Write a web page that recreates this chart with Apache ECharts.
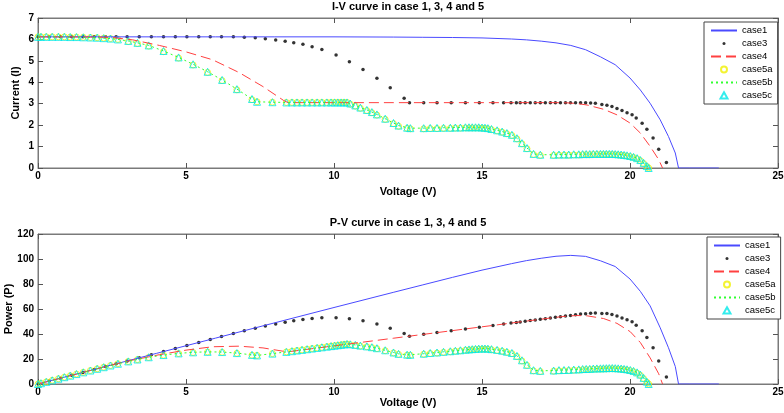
<!DOCTYPE html>
<html><head><meta charset="utf-8">
<script src="https://cdn.jsdelivr.net/npm/echarts@6/dist/echarts.min.js"></script>
<style>html,body{margin:0;padding:0;background:#fff}#c{width:784px;height:413px}</style>
</head><body><div id="c"></div>
<script>
// ---------- texts and ticks ----------
const caseNames = ['case1', 'case3', 'case4', 'case5a', 'case5b', 'case5c'];
const titles = ['I-V curve in case 1, 3, 4 and 5', 'P-V curve in case 1, 3, 4 and 5'];
const xName = 'Voltage (V)';
const yNames = ['Current (I)', 'Power (P)'];
const xTickValues = [0, 5, 10, 15, 20, 25];
const iTickValues = [0, 1, 2, 3, 4, 5, 6, 7];
const pTickValues = [0, 20, 40, 60, 80, 100, 120];

// ---------- case1 ----------
const case1V = [0, 2, 4, 6, 8, 10, 12, 13, 14, 15, 16, 16.5, 17, 17.5, 18, 18.5, 19, 19.5, 20, 20.35, 20.68, 21.02, 21.3, 21.53, 21.64, 22, 22.5, 23];
const case1I = [6.12, 6.12, 6.12, 6.12, 6.12, 6.12, 6.11, 6.10, 6.09, 6.07, 6.02, 5.98, 5.92, 5.84, 5.72, 5.52, 5.19, 4.82, 4.2, 3.64, 3.02, 2.25, 1.47, 0.70, 0, 0, 0, 0];
const case1P = [0, 12.24, 24.48, 36.72, 48.96, 61.2, 73.3, 79.3, 85.3, 91.1, 96.3, 98.7, 100.6, 102.2, 102.9, 102.1, 98.6, 94.0, 84.0, 74.1, 62.5, 45, 29, 14, 0, 0, 0, 0];

// ---------- case3 ----------
const case3V = [0, 0.38, 0.76, 1.14, 1.52, 1.9, 2.28, 2.64, 3.01, 3.42, 3.83, 4.24, 4.64, 5.03, 5.43, 5.82, 6.2, 6.6, 6.97, 7.34,
  7.68, 8.03, 8.35, 8.64, 8.95, 9.26, 9.59, 10.07, 10.52, 10.98, 11.45, 11.9, 12.37, 12.55,
  13.03, 13.48, 13.96, 14.44, 14.91, 15.37, 15.73, 15.98, 16.16, 16.29, 16.46, 16.63, 16.8, 16.97, 17.14, 17.31, 17.48, 17.65, 17.82, 17.99, 18.16, 18.33,
  18.5, 18.67, 18.83, 19.05, 19.22, 19.39, 19.56, 19.73, 19.9, 20.07, 20.21, 20.41, 20.57, 20.78, 20.97, 21.23];
const case3I = [6.12, 6.12, 6.12, 6.12, 6.12, 6.12, 6.12, 6.12, 6.12, 6.12, 6.12, 6.12, 6.12, 6.12, 6.12, 6.12, 6.12, 6.12, 6.1, 6.08,
  6.03, 5.97, 5.92, 5.85, 5.77, 5.66, 5.53, 5.27, 4.96, 4.6, 4.19, 3.74, 3.26, 3.05,
  3.05, 3.05, 3.05, 3.05, 3.05, 3.05, 3.05, 3.05, 3.05, 3.05, 3.05, 3.05, 3.05, 3.05, 3.05, 3.05, 3.05, 3.05, 3.05, 3.05, 3.05, 3.05,
  3.04, 3.03, 3.02, 2.96, 2.93, 2.87, 2.78, 2.68, 2.58, 2.48, 2.33, 2.09, 1.81, 1.40, 0.88, 0.26];
const case3P = [0, 2.33, 4.65, 6.98, 9.3, 11.63, 13.95, 16.16, 18.42, 20.93, 23.44, 25.95, 28.4, 30.78, 33.23, 35.62, 37.94, 40.39, 42.52, 44.63,
  46.31, 47.94, 49.43, 50.54, 51.64, 52.41, 53.03, 53.07, 52.18, 50.51, 47.98, 44.51, 40.33, 38.28,
  39.74, 41.11, 42.58, 44.04, 45.48, 46.88, 47.98, 48.74, 49.29, 49.68, 50.2, 50.72, 51.24, 51.76, 52.28, 52.8, 53.31, 53.83, 54.35, 54.87, 55.39, 55.91,
  56.24, 56.57, 56.87, 56.39, 56.31, 55.65, 54.38, 52.88, 51.34, 49.77, 47.09, 42.66, 37.23, 29.09, 18.45, 5.52];

// ---------- case4 ----------
const case4V = [0, 1, 2, 2.5, 3.2, 4.1, 5.0, 5.9, 6.8, 7.6, 8.3, 8.45, 10, 12, 14, 16, 17.4, 17.87, 18.2, 18.55, 19.11, 19.56, 20.01, 20.35, 20.68, 20.97, 21.1];
const case4I = [6.12, 6.12, 6.11, 6.09, 5.98, 5.72, 5.42, 5.05, 4.45, 3.8, 3.15, 3.05, 3.05, 3.05, 3.05, 3.05, 3.05, 3.04, 3.01, 2.94, 2.74, 2.48, 2.09, 1.63, 1.01, 0.39, 0];
const case4P = [0, 6.12, 12.22, 15.23, 19.14, 23.45, 27.1, 29.8, 30.26, 28.88, 26.15, 25.77, 30.5, 36.6, 42.7, 48.8, 53.07, 54.32, 54.78, 54.54, 52.36, 48.51, 41.82, 33.17, 20.89, 8.18, 0];

// ---------- case5 (a, b, c share the same voltages) ----------
const case5V = [0, 0.1, 0.28, 0.48, 0.69, 0.89, 1.09, 1.3, 1.53, 1.77,
  2.0, 2.22, 2.45, 2.7, 3.05, 3.36, 3.74, 4.24, 4.75, 5.24,
  5.73, 6.22, 6.72, 7.23, 7.4, 7.92, 8.39, 8.58, 8.75, 8.92,
  9.09, 9.26, 9.43, 9.59, 9.76, 9.9, 10.02, 10.13, 10.24, 10.34,
  10.44, 10.55, 10.72, 10.89, 11.11, 11.28, 11.45, 11.73, 12.01, 12.18,
  12.47, 12.58, 13.03, 13.25, 13.48, 13.7, 13.93, 14.1, 14.27, 14.44,
  14.56, 14.67, 14.78, 14.89, 15.0, 15.1, 15.2, 15.32, 15.51, 15.68,
  15.84, 16.01, 16.18, 16.35, 16.52, 16.74, 16.97, 17.42, 17.6, 17.77,
  17.93, 18.1, 18.27, 18.4, 18.52, 18.64, 18.76, 18.88, 19.0, 19.1,
  19.2, 19.3, 19.4, 19.5, 19.6, 19.7, 19.8, 19.9, 20.01, 20.12,
  20.24, 20.35, 20.46, 20.57, 20.63];
const case5cI = [6.12, 6.12, 6.12, 6.12, 6.12, 6.12, 6.11, 6.11, 6.10, 6.09,
  6.08, 6.06, 6.04, 6.00, 5.93, 5.84, 5.72, 5.46, 5.16, 4.84,
  4.49, 4.11, 3.68, 3.22, 3.09, 3.07, 3.06, 3.06, 3.06, 3.06,
  3.06, 3.06, 3.06, 3.06, 3.06, 3.06, 3.06, 3.06, 3.06, 3.06,
  3.06, 3.01, 2.92, 2.82, 2.71, 2.61, 2.50, 2.30, 2.10, 1.98,
  1.88, 1.86, 1.86, 1.87, 1.87, 1.88, 1.88, 1.89, 1.89, 1.90,
  1.90, 1.90, 1.90, 1.90, 1.89, 1.88, 1.86, 1.82, 1.76, 1.70,
  1.63, 1.55, 1.39, 1.16, 0.93, 0.66, 0.62, 0.62, 0.63, 0.63,
  0.63, 0.64, 0.64, 0.65, 0.65, 0.65, 0.66, 0.66, 0.66, 0.66,
  0.66, 0.66, 0.66, 0.65, 0.64, 0.63, 0.61, 0.59, 0.56, 0.52,
  0.46, 0.37, 0.24, 0.09, 0];
const case5cP = [0, 0.61, 1.71, 2.94, 4.22, 5.45, 6.66, 7.94, 9.33, 10.78,
  12.16, 13.45, 14.8, 16.2, 18.09, 19.62, 21.39, 23.15, 24.51, 25.36,
  25.73, 25.56, 24.73, 23.28, 22.87, 24.31, 25.67, 26.25, 26.78, 27.3,
  27.82, 28.34, 28.86, 29.35, 29.87, 30.29, 30.66, 31.0, 31.33, 31.64,
  31.95, 31.76, 31.3, 30.71, 30.11, 29.44, 28.63, 26.98, 25.22, 24.12,
  23.44, 23.4, 24.24, 24.78, 25.21, 25.76, 26.19, 26.65, 26.97, 27.44,
  27.66, 27.87, 28.08, 28.29, 28.35, 28.39, 28.27, 27.88, 27.3, 26.66,
  25.82, 24.82, 22.49, 18.97, 15.36, 11.05, 10.52, 10.8, 11.09, 11.2,
  11.3, 11.58, 11.69, 11.96, 12.04, 12.12, 12.38, 12.46, 12.54, 12.61,
  12.67, 12.74, 12.8, 12.68, 12.54, 12.41, 12.08, 11.74, 11.21, 10.46,
  9.31, 7.53, 4.91, 1.85, 0];
// case5b (dotted line) runs through the same points as the case5c markers
const case5bI = case5cI;
const case5bP = case5cP;
const case5aI = [6.12, 6.12, 6.12, 6.12, 6.12, 6.12, 6.11, 6.11, 6.10, 6.09,
  6.08, 6.06, 6.04, 6.00, 5.90, 5.81, 5.69, 5.43, 5.13, 4.81,
  4.46, 4.08, 3.65, 3.19, 3.09, 3.07, 3.06, 3.06, 3.06, 3.06,
  3.06, 3.06, 3.06, 3.06, 3.06, 3.06, 3.06, 3.06, 3.06, 3.06,
  3.06, 2.98, 2.89, 2.79, 2.68, 2.58, 2.47, 2.27, 2.07, 1.95,
  1.85, 1.83, 1.83, 1.84, 1.84, 1.85, 1.85, 1.86, 1.86, 1.87,
  1.87, 1.87, 1.87, 1.87, 1.86, 1.85, 1.83, 1.79, 1.73, 1.67,
  1.60, 1.52, 1.36, 1.13, 0.90, 0.63, 0.59, 0.59, 0.60, 0.60,
  0.60, 0.61, 0.61, 0.62, 0.62, 0.62, 0.63, 0.63, 0.63, 0.63,
  0.63, 0.63, 0.63, 0.62, 0.61, 0.60, 0.58, 0.56, 0.53, 0.49,
  0.43, 0.34, 0.21, 0.07, 0];
const case5aP = [0, 0.61, 1.71, 2.94, 4.22, 5.45, 6.66, 7.94, 9.33, 10.78,
  12.16, 13.45, 14.8, 16.2, 18.0, 19.52, 21.28, 23.02, 24.37, 25.2,
  25.56, 25.38, 24.53, 23.06, 22.87, 24.31, 25.67, 26.25, 26.78, 27.3,
  27.82, 28.34, 28.86, 29.35, 29.87, 30.29, 30.66, 31.0, 31.33, 31.64,
  31.95, 31.44, 30.98, 30.38, 29.77, 29.1, 28.28, 26.63, 24.86, 23.75,
  23.07, 23.02, 23.84, 24.38, 24.8, 25.35, 25.77, 26.23, 26.54, 27.0,
  27.23, 27.43, 27.64, 27.84, 27.9, 27.94, 27.82, 27.42, 26.83, 26.19,
  25.34, 24.34, 22.0, 18.48, 14.87, 10.55, 10.01, 10.28, 10.56, 10.66,
  10.76, 11.04, 11.14, 11.41, 11.48, 11.56, 11.82, 11.89, 11.97, 12.03,
  12.1, 12.16, 12.22, 12.09, 11.96, 11.82, 11.48, 11.14, 10.61, 9.86,
  8.7, 6.92, 4.3, 1.44, 0];

// ---------- build ----------
const FONT = '"Liberation Sans", Arial, Helvetica, sans-serif';
const pairs = (xs, ys) => xs.map((x, k) => [x, ys[k]]);
const seriesData = [
  [[case1V, case1I], [case3V, case3I], [case4V, case4I], [case5V, case5aI], [case5V, case5bI], [case5V, case5cI]],
  [[case1V, case1P], [case3V, case3P], [case4V, case4P], [case5V, case5aP], [case5V, case5bP], [case5V, case5cP]]
];
const clear = 'rgba(0,0,0,0)';
const styles = [
  { type: 'line', symbol: 'none', lineStyle: { color: '#4a4aff', width: 1 }, itemStyle: { color: clear, borderWidth: 0 } },
  { type: 'scatter', symbol: 'circle', symbolSize: 3.5, itemStyle: { color: '#000' } },
  { type: 'line', symbol: 'none', lineStyle: { color: '#ff4040', width: 1, type: [10, 5] }, itemStyle: { color: clear, borderWidth: 0 } },
  { type: 'scatter', symbol: 'circle', symbolSize: 6, itemStyle: { color: clear, borderColor: '#f0f000', borderWidth: 1 } },
  { type: 'line', symbol: 'none', lineStyle: { color: '#30ff30', width: 1, type: [2, 3] }, itemStyle: { color: clear, borderWidth: 0 } },
  { type: 'scatter', symbol: 'triangle', symbolSize: 7, itemStyle: { color: clear, borderColor: '#00e8e8', borderWidth: 1 } }
];
// legend icons drawn at true size inside a 26x8 box (invisible moveTo corners fix the box)
const legendIcons = [
  null,
  'path://M0,0M26,8M11.5,4A1.5,1.5,0,1,0,14.5,4A1.5,1.5,0,1,0,11.5,4Z',
  null,
  'path://M0,0M26,8M10,4A3,3,0,1,0,16,4A3,3,0,1,0,10,4Z',
  null,
  'path://M0,0M26,8M13,0.8L16.5,7L9.5,7Z'
];

const gridTops = [18, 234];
const yTickSets = [iTickValues, pTickValues];
const xNameGaps = [18, 13];
const yNameGaps = [17, 24];
const axisGray = '#7a7a7a';
const nameStyle = { color: '#000', fontSize: 11, fontWeight: 'bold', fontFamily: FONT };
const labelStyle = { color: '#000', fontSize: 10, fontWeight: 'bold', fontFamily: FONT };

const option = { backgroundColor: '#fff', animation: false, title: [], grid: [], xAxis: [], yAxis: [], legend: [], series: [] };
[0, 1].forEach(g => {
  const yt = yTickSets[g];
  option.title.push({ text: titles[g], left: 408, top: gridTops[g] - 17, textAlign: 'center', padding: 0,
    textStyle: { color: '#000', fontSize: 11, fontWeight: 'bold', fontFamily: FONT } });
  option.grid.push({ left: 38, right: 6, top: gridTops[g], height: 150, show: true, borderColor: axisGray, borderWidth: 1,
    containLabel: false, outerBoundsMode: 'none' });
  const xBase = { type: 'value', gridIndex: g, min: xTickValues[0], max: xTickValues[xTickValues.length - 1],
    interval: xTickValues[1] - xTickValues[0], splitLine: { show: false },
    axisLine: { show: true, onZero: false, lineStyle: { color: axisGray } },
    axisTick: { show: true, inside: true, length: 5, lineStyle: { color: '#555' } } };
  const yBase = { type: 'value', gridIndex: g, min: yt[0], max: yt[yt.length - 1], interval: yt[1] - yt[0],
    splitLine: { show: false }, axisLine: { show: true, onZero: false, lineStyle: { color: axisGray } },
    axisTick: { show: true, inside: true, length: 5, lineStyle: { color: '#555' } } };
  option.xAxis.push(Object.assign({}, xBase, { position: 'bottom', axisLabel: Object.assign({ margin: 3 }, labelStyle),
    name: xName, nameLocation: 'middle', nameGap: xNameGaps[g], nameMoveOverlap: false, nameTextStyle: nameStyle }));
  option.xAxis.push(Object.assign({}, xBase, { position: 'top', axisLabel: { show: false } }));
  option.yAxis.push(Object.assign({}, yBase, { position: 'left', axisLabel: Object.assign({ margin: 4 }, labelStyle),
    name: yNames[g], nameLocation: 'middle', nameGap: yNameGaps[g], nameMoveOverlap: false, nameTextStyle: nameStyle }));
  option.yAxis.push(Object.assign({}, yBase, { position: 'right', axisLabel: { show: false } }));
  option.legend.push({
    data: caseNames.map((nm, k) => legendIcons[k] ? { name: nm, icon: legendIcons[k] } : { name: nm }),
    orient: 'vertical', left: g === 0 ? 704 : 707, top: gridTops[g] + (g === 0 ? 4 : 3),
    padding: [3, 5, 3, 6], itemWidth: 26, itemHeight: 8, itemGap: 2, backgroundColor: '#fff',
    borderColor: '#444', borderWidth: 1, borderRadius: 0, selectedMode: false,
    textStyle: { color: '#000', fontSize: 9.5, fontFamily: FONT, lineHeight: 11 } });
  caseNames.forEach((nm, k) => {
    const d = seriesData[g][k];
    option.series.push(Object.assign({ name: nm, xAxisIndex: g * 2, yAxisIndex: g * 2, data: pairs(d[0], d[1]),
      clip: true, silent: true }, JSON.parse(JSON.stringify(styles[k]))));
  });
});

const chart = echarts.init(document.getElementById('c'), null, { renderer: 'canvas' });
chart.setOption(option);
</script>
</body></html>
